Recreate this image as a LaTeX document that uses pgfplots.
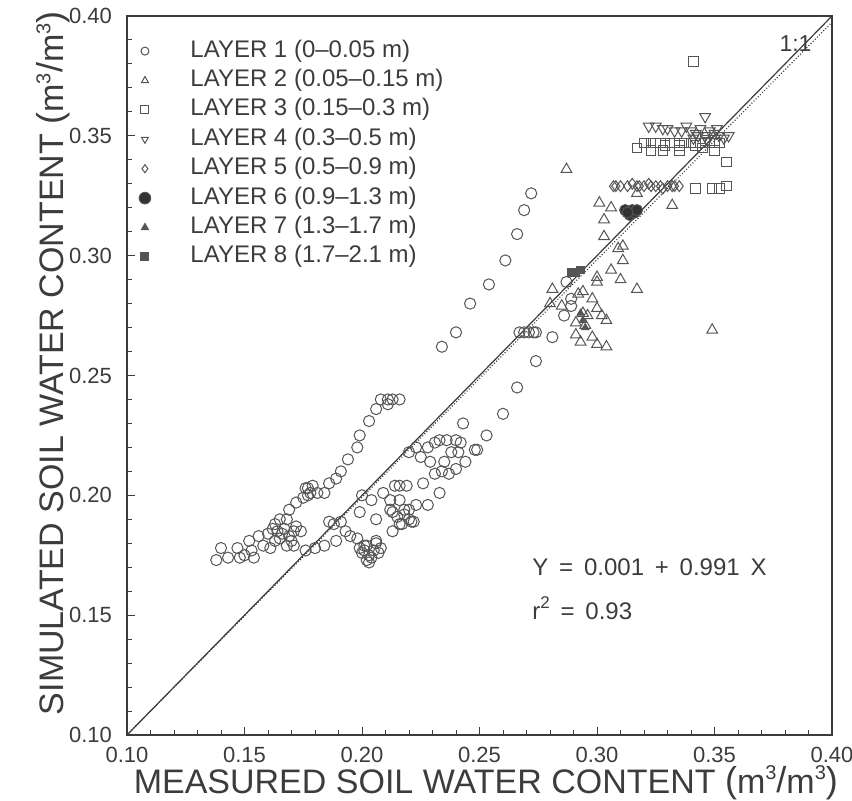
\documentclass[border=0pt]{standalone}
\usepackage{fontspec}
\setmainfont{Liberation Sans}
\usepackage{pgfplots}
\pgfplotsset{compat=1.18}
\definecolor{ink}{HTML}{3C3C3C}
\definecolor{mk}{HTML}{555555}
\newcommand{\bigp}[1]{\raisebox{0.5pt}{\fontsize{18}{18}\selectfont #1}}
\newcommand{\supthree}{\raisebox{0.75ex}{\fontsize{10}{10}\selectfont 3}}
\newcommand{\unitlab}{\bigp{(}m\supthree\bigp{/}m\supthree\bigp{)}}

\begin{document}
\begin{tikzpicture}
\begin{axis}[
  width=352.5pt, height=359.5pt, scale only axis,
  xmin=0.10, xmax=0.40, ymin=0.10, ymax=0.40,
  xtick={0.10,0.15,0.20,0.25,0.30,0.35,0.40},
  ytick={0.10,0.15,0.20,0.25,0.30,0.35,0.40},
  minor tick num=4,
  xtick pos=left, ytick pos=left, tick align=inside,
  major tick length=4pt, minor tick length=2.5pt,
  /pgf/number format/fixed,
  /pgf/number format/fixed zerofill,
  /pgf/number format/precision=2,
  /pgf/number format/assume math mode=true,
  ticklabel style={font=\fontsize{11}{12}\selectfont, text=ink},
  xticklabel style={yshift=-2.3pt},
  yticklabel style={xshift=-4pt},
  axis line style={ink, line width=0.6pt},
  every tick/.style={ink, line width=0.5pt},
  clip=false,
  legend style={at={(axis description cs:-0.0057,0.9777)}, anchor=north west,
    draw=none, fill=none, font=\fontsize{12}{14}\selectfont, text=ink,
    inner sep=2pt, row sep=0pt,
    nodes={text height=9pt, text depth=3pt, inner ysep=1.35pt}},
  legend cell align=left,
  legend image code/.code={\path (0cm,0cm) (1.02cm,0cm);
    \draw[mark repeat=2, mark phase=2, #1]
    plot coordinates {(0cm,0cm) (0.3cm,0cm) (0.6cm,0cm)};},
  every axis plot/.append style={mk, line width=0.5pt},
  legend image post style={mark size=2pt},
]

% layer 1
\addplot[only marks, mark=o, mark size=2.8pt] coordinates {
(0.138,0.173) (0.140,0.178) (0.143,0.174) (0.147,0.178) (0.148,0.174)
(0.150,0.175) (0.154,0.174) (0.153,0.177) (0.152,0.181) (0.156,0.183)
(0.158,0.179) (0.160,0.184) (0.161,0.178) (0.163,0.188) (0.164,0.185)
(0.165,0.190) (0.165,0.182) (0.167,0.186) (0.168,0.179) (0.169,0.183)
(0.171,0.179) (0.171,0.185) (0.174,0.185) (0.169,0.194) (0.172,0.197)
(0.175,0.199) (0.177,0.203) (0.179,0.204) (0.181,0.201) (0.184,0.201)
(0.186,0.205) (0.189,0.207) (0.191,0.210) (0.194,0.215) (0.198,0.220)
(0.199,0.225) (0.203,0.231) (0.206,0.236) (0.208,0.240) (0.211,0.240)
(0.213,0.240) (0.216,0.240) (0.211,0.238)
(0.162,0.186) (0.166,0.184) (0.170,0.181) (0.172,0.187) (0.168,0.190)
(0.163,0.181) (0.176,0.203) (0.178,0.201) (0.177,0.200)
(0.176,0.177) (0.180,0.178) (0.184,0.179) (0.189,0.181) (0.186,0.189)
(0.188,0.188) (0.191,0.189) (0.193,0.185) (0.195,0.183) (0.198,0.182)
(0.199,0.178) (0.201,0.177) (0.203,0.175) (0.202,0.179) (0.206,0.181)
(0.200,0.176) (0.202,0.173) (0.204,0.174) (0.205,0.177) (0.207,0.176)
(0.203,0.172) (0.201,0.179) (0.206,0.180) (0.208,0.178)
(0.199,0.193) (0.204,0.198) (0.200,0.200) (0.206,0.190) (0.209,0.201)
(0.212,0.198) (0.212,0.194) (0.214,0.204) (0.216,0.204) (0.216,0.198)
(0.219,0.204) (0.218,0.194) (0.220,0.194) (0.221,0.189) (0.223,0.196)
(0.228,0.196) (0.226,0.205) (0.233,0.201) (0.213,0.185) (0.217,0.188)
(0.213,0.193) (0.215,0.191) (0.218,0.192) (0.220,0.190) (0.222,0.189)
(0.216,0.188)
(0.220,0.218) (0.223,0.220) (0.228,0.220) (0.231,0.222) (0.233,0.223)
(0.236,0.223) (0.240,0.223) (0.242,0.222) (0.238,0.218) (0.241,0.218)
(0.225,0.216) (0.229,0.214) (0.231,0.209) (0.234,0.210) (0.237,0.209)
(0.240,0.211) (0.235,0.214) (0.244,0.214) (0.248,0.219) (0.243,0.230)
(0.253,0.225) (0.260,0.234) (0.249,0.219) (0.266,0.245) (0.274,0.256)
(0.234,0.262) (0.240,0.268) (0.246,0.280) (0.254,0.288) (0.261,0.298)
(0.266,0.309) (0.269,0.319) (0.272,0.326)
(0.267,0.268) (0.269,0.268) (0.271,0.268) (0.273,0.268) (0.274,0.268)
(0.281,0.266) (0.287,0.289) (0.289,0.279) (0.286,0.275) (0.289,0.282)
};
\addlegendentry{LAYER 1 (0–0.05 m)}

% layer 2
\addplot[only marks, mark=triangle, mark size=3.1pt] coordinates {
(0.287,0.336) (0.301,0.322) (0.306,0.320) (0.317,0.326) (0.332,0.321)
(0.303,0.315) (0.303,0.308) (0.309,0.303) (0.311,0.304) (0.311,0.298)
(0.306,0.294) (0.300,0.291) (0.300,0.289) (0.310,0.290) (0.317,0.286)
(0.281,0.286) (0.280,0.280) (0.285,0.279) (0.292,0.284) (0.294,0.285)
(0.298,0.282) (0.300,0.278) (0.302,0.275) (0.304,0.273) (0.291,0.272)
(0.294,0.276) (0.296,0.275) (0.295,0.271) (0.291,0.267) (0.293,0.264)
(0.298,0.266) (0.300,0.263) (0.304,0.262) (0.349,0.269)
};
\addlegendentry{LAYER 2 (0.05–0.15 m)}

% layer 3
\addplot[only marks, mark=square, mark size=2.4pt] coordinates {
(0.317,0.345) (0.320,0.347) (0.323,0.344) (0.323,0.347) (0.325,0.347)
(0.327,0.347) (0.329,0.346) (0.331,0.347) (0.333,0.347) (0.335,0.346)
(0.337,0.347) (0.340,0.347) (0.342,0.346) (0.344,0.347) (0.346,0.348)
(0.348,0.347) (0.350,0.348) (0.352,0.347) (0.335,0.344) (0.350,0.344)
(0.328,0.344) (0.345,0.345) (0.355,0.339) (0.342,0.328) (0.349,0.328)
(0.352,0.328) (0.355,0.329) (0.341,0.381)
};
\addlegendentry{LAYER 3 (0.15–0.3 m)}

% layer 4
\addplot[only marks, mark=triangle, mark options={rotate=180}, mark size=3.1pt] coordinates {
(0.322,0.354) (0.325,0.354) (0.328,0.353) (0.330,0.353) (0.333,0.352)
(0.336,0.352) (0.338,0.354) (0.340,0.352) (0.342,0.351) (0.344,0.353)
(0.346,0.350) (0.348,0.352) (0.350,0.351) (0.352,0.350) (0.354,0.349)
(0.356,0.350) (0.346,0.358) (0.341,0.349) (0.347,0.348) (0.343,0.350)
(0.351,0.353)
};
\addlegendentry{LAYER 4 (0.3–0.5 m)}

% layer 5
\addplot[only marks, mark=diamond, mark size=2.7pt] coordinates {
(0.307,0.329) (0.308,0.329) (0.310,0.329) (0.313,0.329) (0.315,0.330)
(0.317,0.329) (0.318,0.329) (0.320,0.329) (0.322,0.330) (0.323,0.329)
(0.325,0.329) (0.327,0.329) (0.328,0.328) (0.330,0.329) (0.332,0.329)
(0.333,0.329) (0.335,0.329)
};
\addlegendentry{LAYER 5 (0.5–0.9 m)}

% layer 6
\addplot[only marks, mark=*, mark size=2.8pt, mark options={fill=mk!60!black},
  legend image post style={mark size=2.9pt}] coordinates {
(0.312,0.319) (0.314,0.317) (0.315,0.319) (0.316,0.318) (0.317,0.319)
(0.313,0.318)
};
\addlegendentry{LAYER 6 (0.9–1.3 m)}

% layer 7
\addplot[only marks, mark=triangle*, mark size=2pt, mark options={fill=mk}] coordinates {
(0.294,0.273) (0.295,0.270) (0.293,0.276)
};
\addlegendentry{LAYER 7 (1.3–1.7 m)}

% layer 8
\addplot[only marks, mark=square*, mark size=1.8pt, mark options={fill=mk}] coordinates {
(0.289,0.293) (0.291,0.293) (0.293,0.294)
};
\addlegendentry{LAYER 8 (1.7–2.1 m)}

% 1:1 line and regression line
\addplot[forget plot, ink, line width=0.6pt] coordinates {(0.10,0.10) (0.40,0.40)};
\addplot[forget plot, ink, densely dotted, line width=0.6pt] coordinates {(0.10,0.1001) (0.40,0.3974)};

\node[anchor=base west, inner sep=0pt, font=\fontsize{11.5}{13}\selectfont, text=ink] at (axis description cs:0.925,0.9513) {1:1};
\node[anchor=base west, inner sep=0pt, font=\fontsize{12}{14}\selectfont, text=ink] at (axis description cs:0.5745,0.2225)
  {Y\hspace{0.45em}=\hspace{0.45em}0.001\hspace{0.45em}+\hspace{0.45em}0.991\hspace{0.45em}X};
\node[anchor=base west, inner sep=0pt, font=\fontsize{12}{14}\selectfont, text=ink] at (axis description cs:0.5745,0.1613)
  {r\raisebox{0.85ex}{\fontsize{8.5}{8.5}\selectfont 2}\hspace{0.45em}=\hspace{0.45em}0.93};

\node[anchor=base, font=\fontsize{17}{19}\selectfont, text=ink] at (axis description cs:0.509,-0.0807)
  {MEASURED SOIL WATER CONTENT \unitlab};
\node[anchor=base, rotate=90, font=\fontsize{17}{19}\selectfont, text=ink] at (axis description cs:-0.0894,0.517)
  {SIMULATED SOIL WATER CONTENT \unitlab};
\end{axis}
\pgfresetboundingbox
\path[use as bounding box] ([xshift=-63.5pt,yshift=-32.5pt]current axis.south west)
  rectangle ([xshift=10pt,yshift=8pt]current axis.north east);
\end{tikzpicture}
\end{document}
